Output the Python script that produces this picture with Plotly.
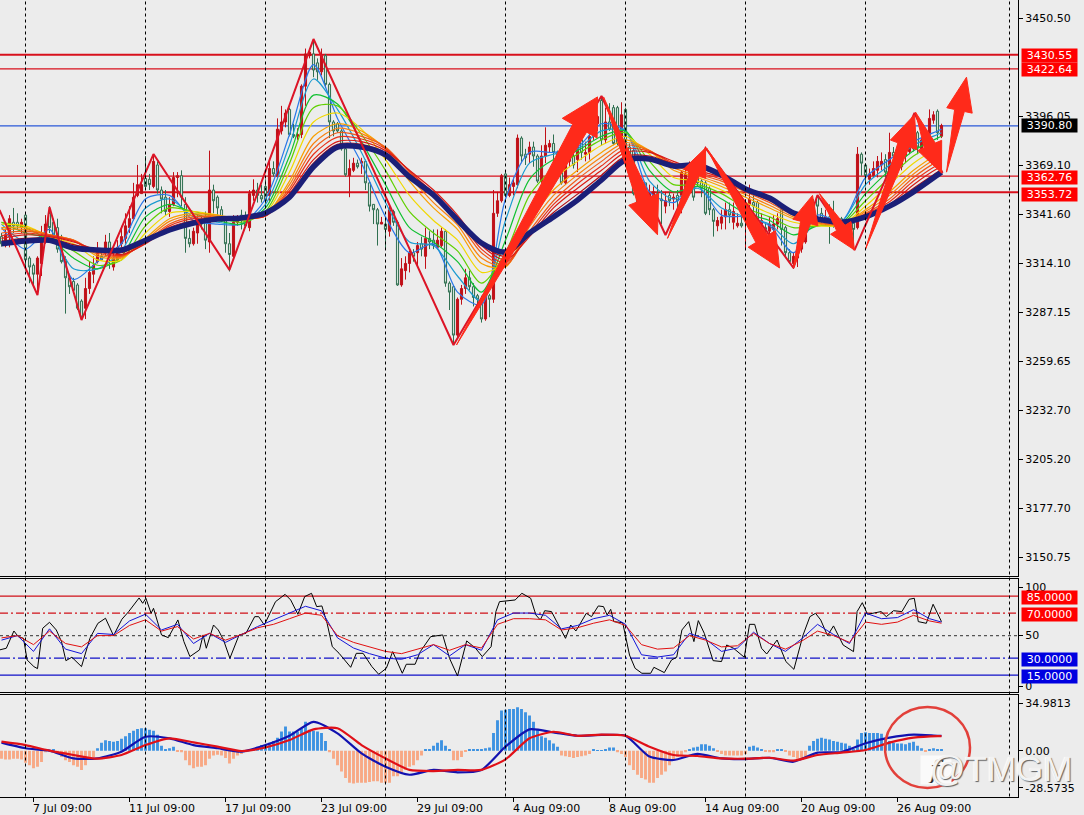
import math
import plotly.graph_objects as go

opens = [3329,3324,3329,3337,3337,3334,3341,3317,3313,3308,
3314,3329,3342,3337,3334,3325,3316,3306,3304,3302,
3293,3289,3300,3308,3315,3318,3321,3326,3312,3316,
3325,3328,3334,3339,3352,3353,3361.5,3361,3357,3369,
3355,3351,3343,3347,3362,3363,3347,3328,3325,3331,
3339,3340,3326,3355,3351,3344,3339,3325,3318,3337,
3341,3338,3334,3352,3355,3352,3357,3352,3367,3362.5,
3388,3393,3400,3386,3385,3386,3413,3430,3431,3426,
3421,3430,3414,3393,3392,3388,3378,3363,3366,3370,
3370,3371,3359,3347,3344,3336,3336,3332,3343,3337,
3302,3310,3314,3320,3320,3325,3318,3328,3327,3323,
3324,3332,3303,3301,3274,3294,3300,3306,3301,3296,
3292,3283,3296,3294,3342,3349,3364,3352,3357,3358,
3384,3375,3375,3379,3374,3360,3374,3379,3381,3376,
3371,3359,3371,3374,3372,3383,3375,3376,3385,3392,
3405,3383,3393,3401,3401,3383,3400,3379,3377,3357,
3349,3359,3349,3350,3353,3350,3346,3352,3350,3352,
3352,3350,3354,3364,3368,3360,3359,3356,3344,3335,
3336.5,3340,3344,3337,3335,3336.5,3342,3347,3348,3348,
3336,3334,3332,3333,3336,3344,3334,3320,3314,3317,
3322,3326,3335,3348,3351,3342,3337,3340,3339,3336.5,
3339,3337.5,3337.5,3336.5,3334,3375,3369,3361,3363,3366,
3369,3372,3365,3376,3375,3368,3374,3376.5,3385,3387,
3378,3383,3386,3394,3399,3385]
highs = [3331,3333,3341,3345,3342,3339,3342,3318,3314,3318,
3335,3341,3346,3339,3339,3330,3318,3308,3306,3303,
3294,3306,3315,3318,3326,3322,3330,3331,3322,3327,
3335,3342,3346,3359,3369,3364,3374,3364,3375,3371,
3357,3355,3351,3365,3365,3366,3351,3333,3334,3341,
3341,3343,3377,3358,3352,3346,3340,3331,3341,3341,
3344,3343,3355,3361,3359,3358,3361,3371,3371,3395,
3402,3400,3401,3392,3389.5,3414,3434,3434,3439,3428.5,
3434,3431,3415,3394,3393,3389,3379,3372,3373,3372,
3373,3372,3360,3347,3345,3340,3340,3346,3344,3338,
3317,3318,3321,3322,3326,3329,3334,3332,3333,3333,
3334,3333,3304,3302,3295,3302,3311,3310,3303,3297,
3296,3297,3297,3355,3354,3364,3365,3362,3362,3386,
3385,3378,3382,3382,3375,3380,3390,3383,3386,3377,
3372,3376,3379,3379,3384,3385,3382,3391,3393,3397,
3407,3401,3403.5,3402.5,3402,3404,3401,3381,3378,3358,
3352,3359,3358,3357,3358,3355,3354,3354,3353,3355,
3366,3370,3371,3365,3370,3361,3360,3357,3345,3340,
3344,3348,3348,3348,3342,3345,3350,3358,3355,3349,
3342,3336.5,3340,3341,3342,3345,3335,3322,3320,3327,
3329,3342,3341,3350,3352,3345,3344,3347,3349,3340,
3340,3338,3339,3337.5,3379,3376,3370,3367,3371,3374,
3376,3375,3387,3379,3376,3376,3379,3382,3391,3388,
3384,3385,3400,3399,3400,3392]
lows = [3323.4,3323,3323,3331,3333,3331,3310,3303,3301,3297,
3307,3325,3331,3327,3320,3314,3286,3297,3297,3288,
3283,3283,3297,3303,3314,3316,3318,3311,3310,3315,
3323,3325,3331,3338,3351,3353,3355,3355,3356,3353,
3342,3341,3340,3346,3351,3346,3320,3323,3324,3325,
3333,3322,3320,3342,3340,3337,3320,3309.5,3316,3335,
3333,3334,3332,3349,3348,3348,3346,3349,3362.5,3361,
3386,3390,3385,3384,3383,3384,3402,3428.5,3418,3416.5,
3419,3412,3384,3385,3387,3377,3362.5,3351,3365,3367,
3364,3355,3343,3336,3324,3336,3322,3329,3335,3301.5,
3301,3305,3309,3315,3312,3318,3311,3322,3322,3322,
3323,3301,3288,3269,3273,3291,3297,3299,3290,3288,
3281,3282,3284,3292,3340,3348,3351,3351,3352,3356,
3370,3369,3370,3368,3359,3359,3370,3376,3369,3366,
3358,3358,3368,3367,3365,3372,3371,3372,3383,3388,
3380,3381,3388,3380,3380,3379,3368,3368,3352,3342,
3344,3347,3347,3348,3338,3336,3342,3346,3344,3342,
3342,3348,3353,3349,3357,3351,3341,3341,3329,3332,
3333,3333,3336.5,3333,3334,3334,3322,3344,3340,3336.5,
3332,3327,3329,3329,3333,3324,3318,3314,3311,3312,
3320,3325,3334,3337,3340,3336.5,3335,3325,3334,3336,
3336,3334,3333,3323,3333,3363,3357,3358,3362,3362,
3366,3362,3364,3370,3368,3366,3370,3375,3376.5,3375,
3377,3378,3383,3392,3383,3384]
closes = [3325,3330,3339,3335,3335,3337,3316,3312,3308,3317,
3327,3336,3334,3329,3322,3315,3306,3301,3299,3289,
3284,3300,3309,3313,3321,3316,3326,3318,3317,3323,
3329,3335,3339,3351,3358,3358,3357,3358,3371,3355,
3350,3343,3347,3362,3363,3351,3328,3325,3332,3338,
3336,3327,3355,3349,3345,3339,3325,3319,3337,3339,
3338,3335,3353,3355,3352,3350,3349,3367,3364,3389,
3393,3398,3386,3385,3386,3413,3431,3432,3422,3421,
3430,3414,3393,3388,3388,3378,3363.5,3367,3370,3368,
3371,3359,3346,3344,3336,3337,3333,3344,3337,3302,
3311,3314,3320,3318,3324,3322,3328,3326,3324,3327,
3332,3303,3298,3274,3294,3300,3306,3301,3295,3294,
3283,3296,3294,3342,3349,3363,3352,3358,3359,3384,
3374,3373,3379,3374,3360,3374,3380,3381,3376,3370,
3359,3372,3375,3369,3382,3376,3376,3385,3392,3396,
3383,3393,3389,3381,3381,3397,3379,3373,3353,3348,
3345,3348,3353,3354,3350,3349,3349,3349,3351,3349,
3365,3364,3368,3351,3359,3356,3342,3344,3337.5,3338,
3340,3344,3341,3343,3336.5,3335,3347,3350,3346,3338,
3338,3333,3336,3336,3339,3333,3320,3315,3318,3322,
3326,3335,3338,3338,3346,3338,3340,3337,3335,3339,
3336.5,3336,3335,3333,3375,3370,3363,3364,3367,3371,
3371,3365,3376,3374,3369,3374,3377,3380,3378,3379,
3383,3379,3395,3397,3387,3391]

ribbon_bars = [0,6,12,18,24,30,36,42,48,54,60,66,72,78,84,90,96,102,108,114,120,126,132,138,144,150,156,162,168,174,180,186,192,198,204,210,216,222,228,234,235]
navy_line = [3325,3326.5,3327,3322.6,3321.5,3321.5,3327,3332.7,3336.6,3338.8,3339.4,3342.2,3351,3368,3379,3379,3374.6,3362.3,3352.2,3338.3,3325.4,3320.4,3331,3340,3349.4,3360.6,3371.8,3372.3,3368.4,3369,3363.4,3355.6,3350.5,3342.2,3338.8,3337,3340,3346,3354,3363.4,3365]
ribbon1 = [3334,3322,3333,3305,3315,3325,3350,3352,3338,3336,3336,3350,3386,3425,3395,3370,3340,3320,3325,3298,3291,3350,3376,3376,3379,3392,3388,3354,3348,3357,3341,3340,3335,3320,3341,3337.5,3362,3372,3382,3388,3389]
ribbon2 = [3336,3326,3330,3311,3311,3321,3345,3350,3340,3337,3336,3347,3380,3417,3400,3376,3348,3326,3324,3307,3293,3338,3370,3375,3378,3388,3388,3360,3350,3356,3345,3340,3336,3325,3337,3337.5,3358,3369,3380,3386,3387]
ribbon3 = [3337,3331,3328,3317,3311,3318,3340,3347,3342,3338,3336,3345,3374,3408,3403,3382,3358,3334,3326,3315,3298,3327,3361,3372,3377,3385,3388,3366,3354,3357,3350,3342,3338,3330,3335,3336.5,3353,3366,3377,3384,3385]
ribbon4 = [3337,3334,3327,3321,3313,3316,3335,3345,3343,3340,3337,3343,3370,3401,3402,3386,3366,3343,3331,3321,3303,3320,3352,3367,3375,3383,3387,3371,3358,3358,3353,3345,3340,3334,3335,3336,3349,3362,3374,3381,3382]
ribbon5 = [3336,3335,3329,3325,3316,3316,3331,3342,3343,3341,3338,3342,3365,3393,3398,3389,3372,3352,3338,3327,3309,3315,3344,3361,3371,3380,3385,3375,3362,3360,3355,3348,3342,3337,3335,3335.5,3346,3358,3370,3378,3379]
ribbon6 = [3334,3334,3330,3327,3318,3317,3328,3339,3342,3341,3339,3341,3360,3385,3392,3388,3378,3360,3345,3333,3314,3312,3337,3355,3366,3376,3383,3377,3366,3362,3357,3351,3345,3339,3336,3335.5,3344,3354,3366,3375,3376]
ribbon7 = [3333,3333,3330,3327,3319,3317.5,3327,3337.5,3341,3340.5,3339,3340.7,3358,3381,3389.5,3386.5,3378.5,3362.5,3348,3335.5,3317,3312.5,3334.5,3352,3363.5,3373.5,3381.5,3377,3367.5,3363,3358.5,3352.5,3346.5,3340,3336.5,3335.8,3343,3352,3364,3373,3374]
ribbon8 = [3331,3332,3330,3327,3320,3318,3326,3336,3340,3340,3339,3340.5,3356,3378,3387,3385,3379,3365,3351,3338,3320,3313,3332,3349,3361,3371,3380,3377,3369,3364,3360,3354,3348,3341,3337,3336,3342,3350,3362,3371,3372]
ribbon9 = [3329.5,3331,3329.5,3326.5,3320.7,3318.5,3325.5,3335,3339,3339.5,3339,3340.5,3354.5,3375,3384.5,3383.5,3378,3365.5,3353,3339.5,3322,3314.5,3330.5,3347,3358.5,3368.5,3378,3376.5,3370,3365,3361,3354.5,3349,3341.8,3337.8,3336.2,3341.5,3348.5,3360,3369,3370]
ribbon10 = [3328,3330,3329,3326,3321.5,3319,3325,3334,3338,3339,3339,3340.5,3353,3372,3382,3382,3377,3366,3355,3341,3324,3316,3329,3345,3356,3366,3376,3376,3371,3366,3362,3355,3350,3342.5,3338.5,3336.5,3341,3347,3358,3367,3368]
ribbon11 = [3326.5,3328,3328,3324.5,3321.5,3320,3326,3333.3,3337.3,3339,3339.2,3341.3,3352,3370,3380.5,3380.5,3375.8,3364,3353.6,3339.6,3324.7,3318,3330,3342.5,3352.7,3363.3,3373.9,3374,3369.7,3367.5,3362.7,3355.3,3350.2,3342.3,3338.6,3336.8,3340.5,3346.5,3356,3365,3366.5]
ribbon_colors = ["#2a78e8","#1a9ad0","#10c030","#60d000","#f0d800","#f8a000","#f88010","#f05a18","#e83018","#d81a14","#b00c14"]

zigzag_bars = [-0.5,9,12,20,38,57,78,113,150,166,176,198,204,213.25,228.25,235.25]
zigzag_prices = [3343.9,3296.4,3345.5,3282.4,3375.1,3310.4,3439.3,3268.5,3407.5,3329.9,3378.5,3311.5,3352.2,3321.5,3398,3364.5]

arrow_tail_bars = [113.75,150.5,166.5,176.25,198,204.5,216,228.5,236.25]
arrow_tail_prices = [3268.5,3407,3328,3378.5,3311.5,3353,3322,3398.5,3365]
arrow_tip_bars = [149,164,176,194.5,202.75,213.25,228.25,235,241.25]
arrow_tip_prices = [3407,3330,3378.5,3311.5,3352,3321.5,3397,3364.5,3418]
arrow_neck = [8,7,5,7,5,5,6,6,5]
arrow_wing = [20,16,12,16,13,12,14,13,13]
arrow_head = [36,38,28,34,28,26,32,30,34]

level_prices = [3430.55,3422.64,3362.76,3353.72]
level_widths = [2,1.3,1.3,2]
current_price = 3390.80
price_labels = ["3450.50","3396.05","3369.10","3341.60","3314.10","3287.15","3259.65","3232.70","3205.20","3177.70","3150.75"]
price_tick_pos = [3451.0,3396.05,3368.7,3341.3,3314.0,3286.6,3259.3,3231.9,3204.6,3177.2,3149.8]
grid_bars = [6,36,66,96,126,156,186,216,252]
date_bars = [8,32,56,80,104,128,152,176,200,224]
date_labels = ["7 Jul 09:00","11 Jul 09:00","17 Jul 09:00","23 Jul 09:00","29 Jul 09:00","4 Aug 09:00","8 Aug 09:00","14 Aug 09:00","20 Aug 09:00","26 Aug 09:00"]

rsi_bars = list(range(0,233,4))+[235]
rsi_black_bars = [-0.5,1.2,3.1,4.2,5.5,6.4,8.1,9,10.3,12,13.7,15,16.1,17.6,20,22.1,24.1,26,28,30.1,31.8,34.4,35.3,36.1,37.4,38,40,41.7,44.1,45.6,47.1,49.5,50.4,51.2,53,54.2,55.5,57.1,59.4,61.1,63.3,64.3,65.7,68.5,70.9,72.3,74.1,75.8,77.5,78.8,80.1,81.4,82.7,84.4,87.3,88.7,90.4,92.6,94.3,96.2,97.8,98.6,100.2,101.2,103.4,104.7,107.3,110.3,112,114,116.3,118.5,120.2,122.4,123.6,124.5,128.4,130.1,132.3,133.6,134.7,135.8,137.5,141,142.3,143.6,146.2,147.5,149.2,150.5,151.4,152.3,153.1,155.3,157,158.4,160.1,162.3,163.1,165.7,167.5,168.8,170.1,171.8,173.1,174.2,175.7,177.9,180,181.3,183,185.7,187,188.3,190,191.3,193.9,196.1,198.1,200.4,202.1,203.5,204.8,206.5,208,210.4,213,213.9,215.2,216.5,219.9,221.2,223,225.1,226.9,228.2,229.2,231.2,232.9,235]
rsi_black = [37.3,38.8,54.1,49.1,47.6,28.4,22.5,20.7,56.5,61.8,55,44.7,27.8,30.8,22.5,47.6,60.9,65.4,50,64.5,71.3,83.4,78.7,83.1,69.8,74.2,50.6,48.2,63.9,44.7,31.4,37.3,50.6,38.8,59.4,55,46.1,29.9,50.6,52,66.8,66.8,59.4,80.1,86.6,81.6,68.9,84.6,87.5,75.7,76.3,60.9,40.2,34.3,21.9,34.3,34.3,22.5,15.7,21,35.8,29.9,16.6,24.6,24.6,35.8,49.1,50.6,29.9,14.2,45.3,38.8,31.4,40.2,71.3,80.1,81.6,87.5,83.1,68.3,63.9,72.1,71.3,47.6,59.4,54.1,69.8,66.8,76.3,75.7,68.3,73.3,62.4,61.5,32.8,21,16.6,16.6,21.9,17.2,28.4,30.8,55,62.4,44.7,63.3,52,27.8,27,41.7,38.8,30.8,60,60,38.8,33.7,46.1,27,20.1,50.6,66.8,69.8,63.9,50,58.6,41.7,35.8,71.3,79.2,68.9,71.3,66.8,72.1,71.3,82.2,83.1,62.4,60.9,77.8,62.4]
rsi_blue = [46,50,36,56,38,34,52,51,63,69,55,60,43,52,44,51,58,64,70,76,72,48,39,34,30,29,33,42,32,42,37,64,70,70,68,56,59,65,68,60,33,31,33,52,47,36,39,53,43,36,47,60,51,43,70,65,66,73,65,62]
rsi_red = [48,50,42,54,43,40,50,50,59,64,54,58,47,52,46,51,57,60,65,70,68,50,44,40,36,34,38,42,37,42,39,60,65,65,64,55,57,61,64,59,42,38,39,50,46,40,41,52,43,38,45,54,50,44,62,60,62,68,63,61]
rsi_levels = [85,70,50,30,15]

macd_hist = [-5,-5.5,-5.5,-5,-5,-5.5,-7.5,-9,-11,-10,
-7,-1,0,0.5,-2,-4,-6,-7,-9,-10,
-12,-9,-5,-4,1.5,5,6.5,6,5.5,6,
7.5,9,11,12.5,13.5,14,14,13,12.5,10,
3,1,1.5,2.5,-0.5,-1,-6,-9,-11,-10,
-10,-9,-5,-3,-2.5,-3,-4.5,-8,-5,-3,
-2,-1,0.5,1,2.5,3.5,3.5,5,6,8,
12,15,12,12,12,14,18,13,12.5,12,
11,6,-1,-5,-9,-13,-17,-20,-20.5,-20,
-20,-20,-19.5,-19,-19,-20,-20,-20,-16,-16,
-14,-12,-10,-9,-6,-3,0.5,0.5,3,5,
6.5,3,0.5,-6,-6,-4,-0.5,0.5,0.5,1,
0.5,1.5,2,11,19,25,25.5,26,26,27,
26,24,22,18,13,9,8,6.5,4.5,2.5,
-3,-3.5,-4,-4.5,-4,-3.5,-3,-2,1,0.2,
0.2,0.5,2,2,-1,-2,-4,-9,-12,-15,
-17,-18,-20,-20,-17,-15,-13,-9,-6,-4,
-3,-1,1,2,2.5,4,4,3,1.5,-0.3,
-2,-3,-3,-3,-3,-3,-2,2.5,3,2,
0.5,-0.5,-1,-1,0.5,1,-0.5,-3,-4,-5,
-5,-4.5,3,6,7.5,8,7.5,7,6,5.5,
5,4.5,3,1,7,11,11.5,11,11,11,
10.5,8,6,5,4.5,4.5,4,5,5.5,3,
1.5,-0.5,1,1.5,1,0.5]
macd_fast = [5,1.5,0,-4.8,-4.8,-0.6,8.7,7.7,3.5,1.5,-0.6,3.5,9.3,18,10.8,-1.7,-10,-15,-12,-13.5,-12,2.5,13.3,11.4,9.3,9.8,9.3,-3.7,-5.8,-2,-4.8,-5.2,-4.4,-6.9,-1.2,-0.8,4.6,8.1,10,9.3,9.3]
macd_signal = [5.6,3.5,0,-2.7,-5,-2.7,3.5,7.7,5.2,2.5,-0.2,2,6.6,13.3,14,3.5,-4.8,-12,-12.7,-12,-12,-5.4,7.7,11.8,9.3,10,9.3,2.5,-2.7,-3.3,-4.8,-5,-4.4,-6.2,-2.7,-1.2,0.4,5,8.1,9.1,9.1]

W, H = 1084, 815
AX_R = 1018
PX_PER_BAR = 4.0
PX_PER_PRICE = 1 / 0.5583
MAIN_TOP_PRICE = 3461.1
MAIN_BOT_PRICE = 3139.5
X_RANGE = [-0.375, 254.125]
RED = "#d8101c"
ARROW = "#ff2a1a"
FONT = "DejaVu Sans"
BG = "#ececec"

fig = go.Figure()
xs = list(range(len(closes)))
fig.add_trace(go.Candlestick(
    x=xs, open=opens, high=highs, low=lows, close=closes, xaxis="x", yaxis="y",
    increasing=dict(line=dict(color="#c01018", width=1), fillcolor="#c01018"),
    decreasing=dict(line=dict(color="#2f6f50", width=1), fillcolor="#d5e3da"),
    whiskerwidth=0, showlegend=False, hoverinfo="skip"))

ribbons = [ribbon1,ribbon2,ribbon3,ribbon4,ribbon5,ribbon6,ribbon7,ribbon8,ribbon9,ribbon10,ribbon11]
for vals, col in zip(ribbons, ribbon_colors):
    fig.add_trace(go.Scatter(x=ribbon_bars, y=vals, mode="lines", xaxis="x", yaxis="y",
        line=dict(color=col, width=1.2, shape="spline", smoothing=0.8), showlegend=False, hoverinfo="skip"))
fig.add_trace(go.Scatter(x=ribbon_bars, y=navy_line, mode="lines", xaxis="x", yaxis="y",
    line=dict(color="#1b1f78", width=5.5, shape="spline", smoothing=0.8), showlegend=False, hoverinfo="skip"))
fig.add_trace(go.Scatter(x=zigzag_bars, y=zigzag_prices, mode="lines", xaxis="x", yaxis="y",
    line=dict(color="#dc1426", width=2), showlegend=False, hoverinfo="skip"))

def arrow_polygon(i):
    tx, ty = arrow_tail_bars[i]*PX_PER_BAR, arrow_tail_prices[i]*PX_PER_PRICE
    hx, hy = arrow_tip_bars[i]*PX_PER_BAR, arrow_tip_prices[i]*PX_PER_PRICE
    d = math.hypot(hx-tx, hy-ty)
    ux, uy = (hx-tx)/d, (hy-ty)/d
    nx, ny = -uy, ux
    bx, by = hx-ux*arrow_head[i], hy-uy*arrow_head[i]
    n, w = arrow_neck[i], arrow_wing[i]
    pts = [(tx,ty),(bx+nx*n,by+ny*n),(bx+nx*w,by+ny*w),(hx,hy),(bx-nx*w,by-ny*w),(bx-nx*n,by-ny*n),(tx,ty)]
    return [p[0]/PX_PER_BAR for p in pts], [p[1]/PX_PER_PRICE for p in pts]

for i in range(len(arrow_tail_bars)):
    ax_, ay_ = arrow_polygon(i)
    fig.add_trace(go.Scatter(x=ax_, y=ay_, mode="lines", fill="toself", fillcolor=ARROW,
        line=dict(color=ARROW, width=1), xaxis="x", yaxis="y", showlegend=False, hoverinfo="skip"))

fig.add_trace(go.Scatter(x=rsi_black_bars, y=rsi_black, mode="lines", xaxis="x2", yaxis="y2",
    line=dict(color="#000000", width=1), showlegend=False, hoverinfo="skip"))
for vals, col in [(rsi_blue,"#1414d8"),(rsi_red,"#e01010")]:
    fig.add_trace(go.Scatter(x=rsi_bars, y=vals, mode="lines", xaxis="x2", yaxis="y2",
        line=dict(color=col, width=1), showlegend=False, hoverinfo="skip"))

fig.add_trace(go.Bar(x=xs, y=macd_hist, xaxis="x3", yaxis="y3", width=0.72,
    marker=dict(color=["#3c92e2" if v >= 0 else "#f8a884" for v in macd_hist], line=dict(width=0)),
    showlegend=False, hoverinfo="skip"))
fig.add_trace(go.Scatter(x=ribbon_bars, y=macd_fast, mode="lines", xaxis="x3", yaxis="y3",
    line=dict(color="#1212b0", width=2.2, shape="spline", smoothing=0.6), showlegend=False, hoverinfo="skip"))
fig.add_trace(go.Scatter(x=ribbon_bars, y=macd_signal, mode="lines", xaxis="x3", yaxis="y3",
    line=dict(color="#e01018", width=2.2, shape="spline", smoothing=0.6), showlegend=False, hoverinfo="skip"))

shapes = []
for b in grid_bars:
    shapes.append(dict(type="line", xref="x", yref="paper", x0=b, x1=b, y0=(H-796.5)/H, y1=1,
                       line=dict(color="#000000", width=1, dash="3px,3px"), layer="above"))
for p, w in zip(level_prices, level_widths):
    shapes.append(dict(type="line", xref="x", yref="y", x0=X_RANGE[0], x1=X_RANGE[1], y0=p, y1=p,
                       line=dict(color=RED, width=w), layer="between"))
shapes.append(dict(type="line", xref="x", yref="y", x0=X_RANGE[0], x1=X_RANGE[1], y0=current_price, y1=current_price,
                   line=dict(color="#2a58d8", width=1.3), layer="between"))
rsi_styles = [("#d01018","solid"),("#d01018","8px,3px,2px,3px"),("#555555","3px,3px"),("#1010c8","10px,3px,2px,3px"),("#1010c8","solid")]
for v, (c, d) in zip(rsi_levels, rsi_styles):
    shapes.append(dict(type="line", xref="x2", yref="y2", x0=X_RANGE[0], x1=X_RANGE[1], y0=v, y1=v,
                       line=dict(color=c, width=1.2, dash=d), layer="between"))
shapes.append(dict(type="circle", xref="paper", yref="paper", x0=885/W, x1=970/W, y0=(H-788)/H, y1=(H-707)/H,
                   line=dict(color="#e2403a", width=2.5)))

ann = []
def tag(text, yv, yref, bg, yshift=0):
    ann.append(dict(text=text, xref="paper", yref=yref, x=1049/W, y=yv, xanchor="center", yanchor="middle",
                    yshift=yshift, showarrow=False, bgcolor=bg, width=55, height=13, borderpad=0,
                    font=dict(family=FONT, size=11, color="#ffffff")))
tag("3430.55", 3430.55, "y", "#ff0000", -1)
tag("3422.64", 3422.64, "y", "#ff0000", -1)
tag("3390.80", 3390.80, "y", "#000000")
tag("3362.76", 3362.76, "y", "#ff0000", -1)
tag("3353.72", 3353.72, "y", "#ff0000", -2)
tag("85.0000", 85, "y2", "#ff0000", -1)
tag("70.0000", 70, "y2", "#ff0000", -1)
tag("30.0000", 30, "y2", "#0000e0", -1)
tag("15.0000", 15, "y2", "#0000e0", -1)
for b, t in zip(date_bars, date_labels):
    ann.append(dict(text=t, xref="x3", yref="paper", x=b, y=(H-807)/H, xanchor="left", yanchor="middle",
                    xshift=-3, yshift=-1, showarrow=False, font=dict(family=FONT, size=11, color="#000000")))
ann.append(dict(text="<i>f</i>", xref="paper", yref="paper", x=936/W, y=(H-770)/H, xanchor="center", yanchor="middle",
                showarrow=False, bgcolor="#fafafa", width=28, height=26,
                font=dict(family="DejaVu Serif", size=26, color="#333333")))
ann.append(dict(text="@TMGM", xref="paper", yref="paper", x=1074/W, y=(H-768)/H, xanchor="right", yanchor="middle",
                showarrow=False,
                font=dict(family="Liberation Sans Narrow, Liberation Sans", size=35, color="#f2f2f2",
                          shadow="1px 1px 1px #606060, -1px 0px 1px #ffffff")))

common_x = dict(range=X_RANGE, domain=[0, AX_R/W], showgrid=False, zeroline=False, showticklabels=False,
                showline=True, linecolor="#000000", linewidth=1, fixedrange=True)
ytick = dict(side="right", showgrid=False, zeroline=False, showline=True, linecolor="#000000", linewidth=1,
             ticks="outside", ticklen=4, tickcolor="#000000", fixedrange=True,
             tickfont=dict(family=FONT, size=11, color="#000000"))

fig.update_layout(
    width=W, height=H, margin=dict(l=0, r=0, t=0, b=0), paper_bgcolor=BG, plot_bgcolor=BG,
    showlegend=False, boxgap=0.25, bargap=0.2, hovermode=False,
    xaxis=dict(common_x, anchor="y", mirror=False, rangeslider=dict(visible=False)),
    xaxis2=dict(common_x, anchor="y2", mirror=True, matches="x"),
    xaxis3=dict(common_x, anchor="y3", mirror=True, matches="x", ticks="outside", ticklen=4,
                tickcolor="#000000", tickvals=date_bars),
    yaxis=dict(ytick, anchor="x", domain=[(H-576)/H, 1], range=[MAIN_BOT_PRICE, MAIN_TOP_PRICE],
               tickvals=price_tick_pos, ticktext=price_labels),
    yaxis2=dict(ytick, anchor="x2", domain=[(H-691.5)/H, (H-579)/H], range=[0.44, 100.2],
                tickvals=[93, 50, 5.3], ticktext=["100", "50", "0"]),
    yaxis3=dict(ytick, anchor="x3", domain=[(H-796.5)/H, (H-695)/H], range=[-28.55, 34.7],
                tickvals=[29.7, 0, -23.2], ticktext=["34.9813", "0.00", "-28.5735"]),
    shapes=shapes, annotations=ann)

fig.write_html("out.html", config=dict(displayModeBar=False),
               post_script="document.body.style.margin='0';document.body.style.overflow='hidden';")
